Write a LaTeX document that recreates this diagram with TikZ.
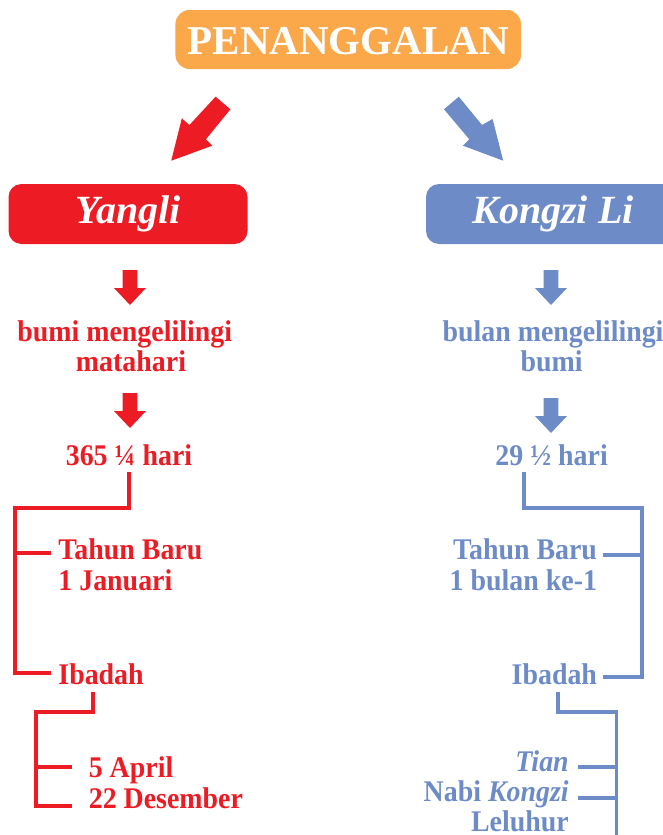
\documentclass[tikz,border=0pt]{standalone}
\usepackage{fontspec}
\setmainfont{Liberation Serif}
\newfontfamily\bodyfont{Liberation Serif}[FakeStretch=0.93]
\usetikzlibrary{calc}
\definecolor{cred}{RGB}{237,28,36}
\definecolor{cblue}{RGB}{109,139,199}
\definecolor{corange}{RGB}{250,168,74}
\begin{document}
\begin{tikzpicture}[x=1pt,y=-1pt,
  every node/.style={inner sep=0pt,outer sep=0pt},
  txt/.style={font=\bodyfont\fontsize{30}{32}\selectfont\bfseries},
  rtxt/.style={txt,text=cred},
  btxt/.style={txt,text=cblue},
  rl/.style={draw=cred,line width=3.8pt},
  bl/.style={draw=cblue,line width=3.8pt},
  headbox/.style={rounded corners=13pt,text=white,minimum height=60pt,
    font=\fontsize{40}{40}\selectfont\bfseries\itshape,text height=27pt,text depth=9pt},
  dnarr/.pic={\fill (-7.4,0) -- (7.4,0) -- (7.4,18) -- (16,18) -- (0,35) -- (-16,18) -- (-7.4,18) -- cycle;}]
\useasboundingbox (0,0) rectangle (663,835);

% title
\node[fill=corange,rounded corners=14pt,minimum width=345.5pt,minimum height=59pt,
  text=white,font=\fontsize{41}{41}\selectfont\bfseries,text height=29pt,text depth=0pt]
  (pen) at (348.2,39.5) {PENANGGALAN};

% fat arrows
\fill[cred] (215.6,96.7) -- (230.4,109.3) -- (205.9,139.3) -- (212.3,145.7)
  -- (171.2,160.7) -- (181.8,118.3) -- (189.4,125) -- cycle;
\fill[cblue] (458.8,96.7) -- (444,109.3) -- (469.3,139.3) -- (463,145.7)
  -- (503.2,160.7) -- (492.6,119) -- (482,125) -- cycle;

% category boxes
\node[headbox,fill=cred,minimum width=239pt] (yl) at (128,214) {Yangli};
\node[headbox,fill=cblue,minimum width=254pt] (kl) at (553,214) {Kongzi Li};

% left column
\pic[cred] at (130,270) {dnarr};
\node[rtxt,anchor=base] (b1a) at (124.7,341.7) {bumi mengelilingi};
\node[rtxt,anchor=base] (b1b) at (131,371.7) {matahari};
\pic[cred] at (130,393) {dnarr};
\node[rtxt,anchor=base] (h1) at (129,465) {365 ¼ hari};

\node[rtxt,anchor=base west] (tb1) at (58.4,559.3) {Tahun Baru};
\node[rtxt,anchor=base west] (tj1) at (58.4,590) {1 Januari};
\node[rtxt,anchor=base west] (ib1) at (58.4,684) {Ibadah};
\node[rtxt,anchor=base west] (ap) at (88.8,777) {5 April};
\node[rtxt,anchor=base west] (dz) at (88.8,808) {22 Desember};

% right column
\pic[cblue] at (551,270) {dnarr};
\node[btxt,anchor=base] (b2a) at (553,341.7) {bulan mengelilingi};
\node[btxt,anchor=base] (b2b) at (551.6,371.7) {bumi};
\pic[cblue] at (551,398) {dnarr};
\node[btxt,anchor=base] (h2) at (551.6,465) {29 ½ hari};

\node[btxt,anchor=base east] (tb2) at (597,559.3) {Tahun Baru};
\node[btxt,anchor=base east] (tj2) at (597,590) {1 bulan ke-1};
\node[btxt,anchor=base east] (ib2) at (597,684) {Ibadah};
\node[btxt,anchor=base east] (ti) at (568.7,771.7) {\itshape Tian};
\node[btxt,anchor=base east] (nk) at (568.7,801.7) {Nabi \itshape Kongzi};
\node[btxt,anchor=base east] (lh) at (568.7,831.7) {Leluhur};

% red tree
\coordinate (rA) at (14.8,508);
\coordinate (rB) at (36,712);
\draw[rl] ([yshift=-6.5pt]h1.south) |- (rA)
  |- ($(ib1.base west)+(-7.7,-11)$);
\draw[rl] ($(tb1.base west)+(-7.7,-6.6)$) coordinate (r1) -- (r1 -| rA);
\draw[rl] ($(ib1.base west)+(34.6,7.5)$) |- (rB)
  |- ($(dz.base west)+(-16.8,-2)$);
\draw[rl] ($(ap.base west)+(-16.8,-9.7)$) coordinate (r2) -- (r2 -| rB);

% blue tree
\coordinate (bA) at (641.9,508);
\coordinate (bB) at (616.5,712);
\coordinate (bC) at (616.5,845);
\draw[bl] ($(h2.base)+(-27.3,6.5)$) |- (bA)
  |- ($(ib2.base east)+(5.5,-7)$);
\draw[bl] ($(tb2.base east)+(5.5,-4.3)$) coordinate (b1) -- (b1 -| bA);
\draw[bl] ($(ib2.base east)+(-39,7.5)$) |- (bB) -- (bC);
\draw[bl] ($(ti.base east)+(9.7,-4.7)$) coordinate (b2) -- (b2 -| bB);
\draw[bl] ($(nk.base east)+(9.7,-3.7)$) coordinate (b3) -- (b3 -| bB);
\end{tikzpicture}
\end{document}
